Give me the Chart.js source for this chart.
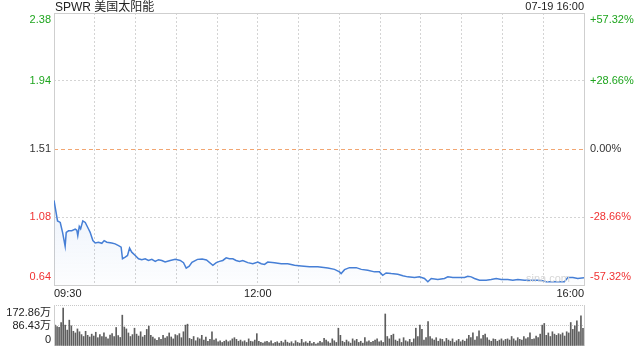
<!DOCTYPE html>
<html>
<head>
<meta charset="utf-8">
<script src="https://cdn.jsdelivr.net/npm/chart.js@4.4.0/dist/chart.umd.min.js"></script>
<style>
    body { margin: 0; background: #fff; }
    #wrap { position: relative; width: 640px; height: 360px; }
    #priceChart { position: absolute; left: 0; top: 0; }
    #volChart { position: absolute; left: 0; top: 300px; }
</style>
</head>
<body>
<div id="wrap">
    <canvas id="priceChart" width="640" height="300"></canvas>
    <canvas id="volChart" width="640" height="60"></canvas>
</div>
<script>
const stockTitle = 'SPWR 美国太阳能';
const stampText = '07-19 16:00';
const watermark = 'sina.com';

// minutes since 09:30 and last price
const priceTimes = [0, 2.6, 4.6, 6.3, 8.2, 9.0, 10.7, 13.1, 15.6, 16.8, 17.5, 18.6, 19.6, 21.2, 23.0, 25.4, 26.6, 28.6, 30.3, 32.7,
    35.2, 36.9, 38.9, 42.5, 45.0, 47.5, 49.4, 50.4, 52.4, 54.1, 55.6, 57.2, 59.8, 62.2, 64.6, 67.1, 69.5, 72.0, 74.5, 76.9,
    79.3, 81.8, 85.5, 89.2, 92.9, 95.3, 97.3, 99.5, 101.5, 105.6, 109.0, 112.2, 116.9, 119.4, 121.8, 124.2, 126.7, 129.1, 131.6, 134.0,
    136.5, 138.9, 142.6, 146.3, 150.0, 152.5, 154.9, 157.3, 162.3, 167.2, 172.0, 177.0, 181.9, 188.0, 194.1, 201.5, 206.4, 210.1, 211.3, 213.8,
    217.4, 222.4, 226.1, 230.9, 235.8, 239.5, 241.9, 244.4, 248.1, 253.0, 256.7, 260.3, 265.3, 268.9, 272.6, 275.1, 277.6, 282.4, 287.3, 289.8,
    293.5, 298.4, 302.1, 304.5, 307.0, 309.4, 313.1, 318.0, 321.7, 325.4, 329.1, 333.9, 337.6, 341.3, 346.2, 351.1, 356.0, 359.7, 362.2, 365.9,
    370.7, 375.6, 378.1, 381.8, 385.4, 390];
const prices = [1.181, 1.050, 1.040, 0.977, 0.888, 0.977, 0.987, 0.987, 0.998, 0.990, 0.955, 1.015, 1.000, 1.050, 1.040, 0.998, 0.977, 0.924, 0.909, 0.914,
    0.907, 0.924, 0.914, 0.909, 0.903, 0.892, 0.882, 0.808, 0.819, 0.829, 0.876, 0.850, 0.829, 0.808, 0.802, 0.808, 0.797, 0.804, 0.791, 0.802,
    0.797, 0.787, 0.797, 0.804, 0.797, 0.783, 0.748, 0.760, 0.785, 0.804, 0.806, 0.800, 0.766, 0.783, 0.791, 0.797, 0.814, 0.808, 0.808, 0.797,
    0.791, 0.797, 0.783, 0.776, 0.787, 0.776, 0.772, 0.787, 0.783, 0.776, 0.776, 0.766, 0.762, 0.756, 0.756, 0.749, 0.740, 0.724, 0.713, 0.738,
    0.751, 0.751, 0.740, 0.734, 0.724, 0.724, 0.702, 0.717, 0.713, 0.709, 0.699, 0.692, 0.688, 0.692, 0.682, 0.661, 0.682, 0.675, 0.682, 0.692,
    0.688, 0.688, 0.688, 0.696, 0.692, 0.682, 0.671, 0.671, 0.675, 0.682, 0.675, 0.675, 0.671, 0.675, 0.671, 0.671, 0.671, 0.667, 0.661, 0.661,
    0.661, 0.661, 0.688, 0.688, 0.682, 0.686];

const prevClose = 1.51;
const priceTicks = [0.64, 1.075, 1.51, 1.945, 2.38];
const priceTickLabels = ['0.64', '1.08', '1.51', '1.94', '2.38'];
const pctTickLabels = ['-57.32%', '-28.66%', '0.00%', '+28.66%', '+57.32%'];
const timeTicks = [0, 150, 390];
const timeTickLabels = ['09:30', '12:00', '16:00'];

// volume in 万 shares, one bar per 1.5 min
const volumes = [88, 82, 79, 99, 160, 88, 67, 109, 85, 62, 55, 72, 60, 48, 40,
    62, 45, 38, 50, 42, 58, 35, 48, 40, 55, 38, 30, 46, 52, 40,
    78, 44, 36, 130, 80, 72, 55, 40, 48, 75, 50, 42, 60, 38, 45, 70,
    84, 45, 38, 30, 24, 35, 28, 45, 33, 40, 55, 38, 30, 48, 44, 52, 35, 60, 88, 92,
    32, 28, 40, 22, 35, 30, 45, 25, 38, 20, 28, 60, 25, 30, 18, 22, 15, 20, 25, 18,
    22, 30, 35, 28, 20, 25, 18, 22, 15, 30, 20, 18, 25, 52, 20,
    15, 12, 18, 20, 14, 22, 10, 15, 18, 12, 20, 14, 25, 16, 12, 18, 10, 22, 15, 12, 28, 14, 18, 12, 20,
    10, 15, 8, 12, 20, 14, 32, 25, 18, 12, 30, 22, 15, 75, 45,
    20, 15, 25, 18, 12, 30, 22, 28, 15, 20, 12, 35, 18, 22, 15,
    20, 25, 30, 18, 22, 15, 135, 40, 30, 45,
    50, 25, 20, 30, 15, 35, 22, 18, 28, 15,
    30, 75, 40, 88, 70, 25, 35, 103, 40, 30,
    25, 35, 20, 30, 28, 18, 32, 25, 20, 30, 15, 22, 28, 18, 25,
    20, 30, 45, 35, 55, 25, 40, 64, 30, 45, 50, 35, 25, 20, 30,
    28, 20, 25, 30, 22, 28, 30, 25, 40, 30, 22, 35, 28, 25, 40,
    30, 35, 56, 28, 30, 42, 35, 50, 88, 95,
    45, 55, 40, 60, 50, 45, 52, 48, 55, 42,
    60, 55, 99, 70, 85, 106, 60, 127, 75];
const volTicks = [0, 86.43, 172.86];
const volTickLabels = ['0', '86.43万', '172.86万'];

const FONT = 'Arial, "Liberation Sans", "Noto Sans CJK SC", sans-serif';
const UP = '#1fa51f';
const DOWN = '#f03232';
const GRID = '#d4d4d4';

function tickColor(v) {
    if (Math.abs(v - prevClose) < 0.001) return '#333';
    return v > prevClose ? UP : DOWN;
}

const priceDecor = {
    id: 'priceDecor',
    beforeDatasetsDraw(chart) {
        const ctx = chart.ctx, a = chart.chartArea, y = chart.scales.y;
        ctx.save();
        const yc = Math.round(y.getPixelForValue(prevClose)) + 0.5;
        ctx.strokeStyle = '#f2a672';
        ctx.lineWidth = 1;
        ctx.setLineDash([4, 3]);
        ctx.beginPath();
        ctx.moveTo(a.left, yc);
        ctx.lineTo(a.right, yc);
        ctx.stroke();
        ctx.setLineDash([]);
        ctx.strokeStyle = '#cfcfcf';
        ctx.strokeRect(a.left + 0.5, a.top + 0.5, a.right - a.left, a.bottom - a.top);
        ctx.restore();
    },
    afterDraw(chart) {
        const ctx = chart.ctx, a = chart.chartArea, x = chart.scales.x, y = chart.scales.y;
        ctx.save();
        ctx.font = '11px ' + FONT;
        ctx.textBaseline = 'middle';
        priceTicks.forEach(function(v, i) {
            let py = y.getPixelForValue(v);
            if (i === 0) py -= 8;
            if (i === priceTicks.length - 1) py += 7;
            ctx.fillStyle = tickColor(v);
            ctx.textAlign = 'right';
            ctx.fillText(priceTickLabels[i], a.left - 3, py);
            ctx.textAlign = 'left';
            ctx.fillText(pctTickLabels[i], a.right + 6, py);
        });
        ctx.fillStyle = '#222';
        timeTicks.forEach(function(t, i) {
            ctx.textAlign = i === 0 ? 'left' : (i === timeTicks.length - 1 ? 'right' : 'center');
            ctx.fillText(timeTickLabels[i], x.getPixelForValue(t), a.bottom + 9);
        });
        ctx.textAlign = 'right';
        ctx.fillText(stampText, a.right, 7);
        ctx.font = '12px ' + FONT;
        ctx.textAlign = 'left';
        ctx.fillText(stockTitle, a.left + 1, 8);
        ctx.font = '11px ' + FONT;
        ctx.fillStyle = '#d6d6d6';
        ctx.textAlign = 'right';
        ctx.fillText(watermark, a.right - 14, a.bottom - 6);
        ctx.restore();
    }
};

new Chart(document.getElementById('priceChart').getContext('2d'), {
    type: 'line',
    data: {
        datasets: [{
            data: priceTimes.map((t, i) => ({ x: t, y: prices[i] })),
            borderColor: '#467fd6',
            borderWidth: 1.5,
            pointRadius: 0,
            tension: 0,
            fill: 'start',
            backgroundColor: function(c) {
                const area = c.chart.chartArea;
                if (!area) return 'transparent';
                const g = c.chart.ctx.createLinearGradient(0, area.top + 185, 0, area.bottom);
                g.addColorStop(0, 'rgba(70,127,214,0.10)');
                g.addColorStop(1, 'rgba(70,127,214,0.01)');
                return g;
            }
        }]
    },
    options: {
        responsive: false,
        animation: false,
        devicePixelRatio: 1,
        layout: { padding: { left: 54, right: 56, top: 13, bottom: 15 } },
        plugins: { legend: { display: false }, tooltip: { enabled: false } },
        scales: {
            x: {
                type: 'linear', min: 0, max: 390,
                ticks: { display: false, stepSize: 30 },
                grid: {
                    drawTicks: false,
                    color: c => (c.tick.value === 0 || c.tick.value === 390) ? 'transparent' : GRID
                },
                border: { display: false, dash: [2, 2] }
            },
            y: {
                min: 0.64, max: 2.38,
                afterBuildTicks: s => { s.ticks = priceTicks.map(v => ({ value: v })); },
                ticks: { display: false },
                grid: {
                    drawTicks: false,
                    color: c => (c.index === 0 || c.index === 2 || c.index === 4) ? 'transparent' : GRID
                },
                border: { display: false, dash: [2, 2] }
            }
        }
    },
    plugins: [priceDecor]
});

const volDecor = {
    id: 'volDecor',
    afterDraw(chart) {
        const ctx = chart.ctx, a = chart.chartArea, y = chart.scales.y;
        ctx.save();
        ctx.strokeStyle = '#cfcfcf';
        ctx.beginPath();
        ctx.moveTo(a.left + 0.5, a.top);
        ctx.lineTo(a.left + 0.5, a.bottom);
        ctx.moveTo(a.right + 0.5, a.top);
        ctx.lineTo(a.right + 0.5, a.bottom);
        ctx.stroke();
        ctx.font = '11px ' + FONT;
        ctx.textBaseline = 'middle';
        ctx.textAlign = 'right';
        ctx.fillStyle = '#222';
        volTicks.forEach(function(v, i) {
            let py = y.getPixelForValue(v);
            if (i === 0) py -= 6;
            if (i === volTicks.length - 1) py += 8;
            ctx.fillText(volTickLabels[i], a.left - 3, py);
        });
        ctx.restore();
    }
};

new Chart(document.getElementById('volChart').getContext('2d'), {
    type: 'bar',
    data: {
        datasets: [{
            data: volumes.map((v, i) => ({ x: i * 1.5 + 0.75, y: v })),
            backgroundColor: '#5e5e5e',
            barThickness: 1
        }]
    },
    options: {
        responsive: false,
        animation: false,
        devicePixelRatio: 1,
        layout: { padding: { left: 54, right: 56, top: 5, bottom: 6 } },
        plugins: { legend: { display: false }, tooltip: { enabled: false } },
        scales: {
            x: {
                type: 'linear', min: 0, max: 390, offset: false,
                ticks: { display: false },
                grid: { display: false },
                border: { display: false }
            },
            y: {
                min: 0, max: 172.86,
                afterBuildTicks: s => { s.ticks = volTicks.map(v => ({ value: v })); },
                ticks: { display: false },
                grid: {
                    drawTicks: false,
                    color: c => c.index === 0 ? 'transparent' : '#c8c8c8'
                },
                border: { display: false, dash: [1, 1] }
            }
        }
    },
    plugins: [volDecor]
});
</script>
</body>
</html>
